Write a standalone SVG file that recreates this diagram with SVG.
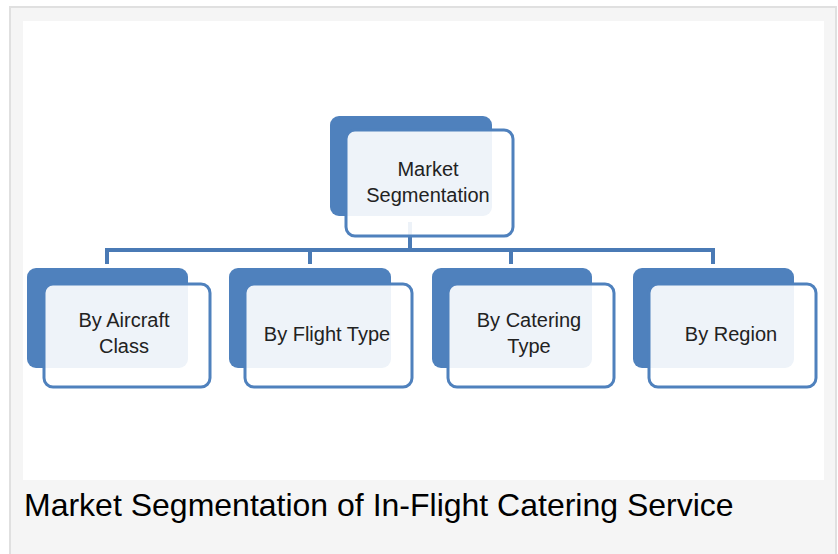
<svg xmlns="http://www.w3.org/2000/svg" width="838" height="554" viewBox="0 0 838 554">
<style>
.back{fill:#4f81bd}
.front{fill:#ffffff;fill-opacity:0.9;stroke:#4f81bd;stroke-width:3}
.lbl{font-family:"Liberation Sans",Arial,sans-serif;font-size:20px;fill:#222222;text-anchor:middle}
.conn{stroke:#4a7ab5;stroke-width:4;fill:none}
.cap{font-family:"Liberation Sans",Arial,sans-serif;font-size:32px;fill:#000000}
</style>
<rect x="0" y="0" width="838" height="554" fill="#ffffff"/>
<rect x="10" y="7" width="826" height="549" fill="#f5f5f5" stroke="#e0e0e0" stroke-width="2"/>
<rect x="23" y="21" width="801" height="459" fill="#ffffff"/>
<g id="connectors">
<path class="conn" d="M410 222 V250"/>
<path class="conn" d="M107 264 V250 H713 V264"/>
<path class="conn" d="M310 250 V264"/>
<path class="conn" d="M511 250 V264"/>
</g>
<g id="node-root">
<rect class="back" x="330" y="116" width="162" height="100" rx="9"/>
<rect class="front" x="346" y="130" width="167" height="106" rx="9"/>
<text class="lbl" x="428" y="176">Market</text>
<text class="lbl" x="428" y="202">Segmentation</text>
</g>
<g id="node-aircraft">
<rect class="back" x="27" y="268" width="161" height="100" rx="9"/>
<rect class="front" x="44" y="284" width="166" height="103" rx="9"/>
<text class="lbl" x="124" y="327">By Aircraft</text>
<text class="lbl" x="124" y="353">Class</text>
</g>
<g id="node-flight">
<rect class="back" x="229" y="268" width="162" height="100" rx="9"/>
<rect class="front" x="245" y="284" width="167" height="103" rx="9"/>
<text class="lbl" x="327" y="341">By Flight Type</text>
</g>
<g id="node-catering">
<rect class="back" x="432" y="268" width="160" height="100" rx="9"/>
<rect class="front" x="448" y="284" width="166" height="103" rx="9"/>
<text class="lbl" x="529" y="327">By Catering</text>
<text class="lbl" x="529" y="353">Type</text>
</g>
<g id="node-region">
<rect class="back" x="633" y="268" width="161" height="100" rx="9"/>
<rect class="front" x="649" y="284" width="167" height="103" rx="9"/>
<text class="lbl" x="731" y="341">By Region</text>
</g>
<text class="cap" x="24" y="516">Market Segmentation of In-Flight Catering Service</text>
</svg>
